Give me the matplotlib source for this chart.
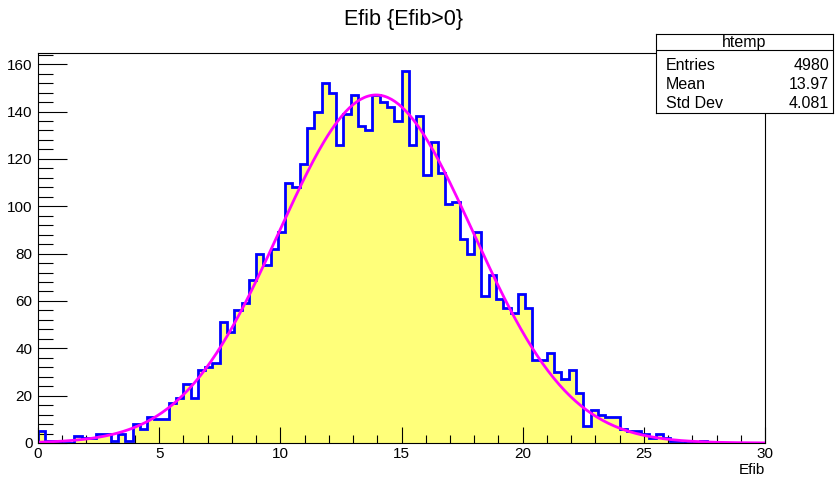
import numpy as np
import matplotlib.pyplot as plt
from matplotlib.ticker import MultipleLocator

plt.rcParams['font.family'] = ['Liberation Sans', 'DejaVu Sans']

# histogram: 100 bins from 0 to 30
x_min, x_max, n_bins = 0.0, 30.0, 100
counts = [
    5, 1, 1, 0, 0, 3, 2, 2, 4, 4,
    1, 4, 1, 8, 6, 11, 10, 10, 17, 19,
    25, 19, 31, 32, 34, 51, 47, 56, 59, 69,
    80, 75, 82, 89, 110, 108, 118, 133, 140, 152,
    148, 126, 139, 147, 134, 132, 147, 144, 142, 136,
    157, 126, 138, 113, 127, 114, 101, 102, 86, 80,
    89, 62, 71, 61, 57, 55, 63, 57, 35, 35,
    38, 30, 27, 31, 21, 7, 14, 12, 11, 11,
    6, 5, 5, 4, 2, 4, 2, 1, 1, 0,
    0, 1, 0, 0, 0, 0, 0, 0, 0, 0,
]

# gaussian fit parameters
fit_const, fit_mean, fit_sigma = 147.0, 13.95, 4.0

# stats box
stats_name = "htemp"
stats_labels = ["Entries", "Mean", "Std Dev"]
stats_values = ["4980", "13.97", "4.081"]

edges = np.linspace(x_min, x_max, n_bins + 1)

fig = plt.figure(figsize=(8.35, 4.78), dpi=100)
ax = fig.add_axes([38 / 835, 1 - 443 / 478, 727 / 835, (443 - 52.7) / 478])

ax.stairs(counts, edges, fill=True, color="#ffff7a", zorder=1)
ax.stairs(counts, edges, color="#0000ff", linewidth=2, zorder=2)

xf = np.linspace(x_min, x_max, 400)
ax.plot(xf, fit_const * np.exp(-0.5 * ((xf - fit_mean) / fit_sigma) ** 2),
        color="#ff00ff", linewidth=2, zorder=3)

ax.set_xlim(x_min, x_max)
ax.set_ylim(0, 1.05 * max(counts))

ax.xaxis.set_major_locator(MultipleLocator(5))
ax.xaxis.set_minor_locator(MultipleLocator(1))
ax.yaxis.set_major_locator(MultipleLocator(20))
ax.yaxis.set_minor_locator(MultipleLocator(4))
ax.tick_params(axis="both", which="both", direction="in", labelsize=11,
               top=False, right=False, color="black", width=0.8)
ax.tick_params(axis="x", which="major", length=11.5, pad=3)
ax.tick_params(axis="x", which="minor", length=6)
ax.tick_params(axis="y", which="major", length=21, pad=4)
ax.tick_params(axis="y", which="minor", length=10.5)
for s in ax.spines.values():
    s.set_linewidth(0.8)
    s.set_zorder(5)

fig.text(752 / 835, 1 - 470 / 478, "Efib", ha="center", va="center", fontsize=11)
fig.text(403 / 835, 1 - 20 / 478, "Efib {Efib>0}", ha="center", va="center",
         fontsize=15.5)

# stats box
box_l, box_r, box_t, box_b = 656, 833, 34, 113
bax = fig.add_axes([box_l / 835, 1 - box_b / 478, (box_r - box_l) / 835,
                    (box_b - box_t) / 478])
bax.set_xlim(box_l, box_r)
bax.set_ylim(box_b, box_t)
bax.set_xticks([])
bax.set_yticks([])
for s in bax.spines.values():
    s.set_linewidth(0.8)
bax.axhline(50, color="black", linewidth=0.8)
bax.text((box_l + box_r) / 2, 42.5, stats_name, ha="center", va="center",
         fontsize=11.5)
for i, (lab, val) in enumerate(zip(stats_labels, stats_values)):
    y = 65 + 19.5 * i
    bax.text(666, y, lab, ha="left", va="center", fontsize=11.5)
    bax.text(829, y, val, ha="right", va="center", fontsize=11.5)

fig.savefig("out.png", dpi=100)
